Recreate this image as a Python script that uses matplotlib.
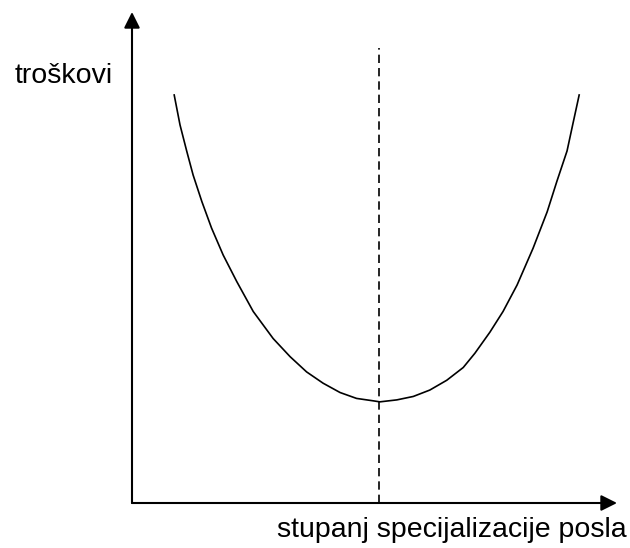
import numpy as np
import matplotlib
matplotlib.use('Agg')
import matplotlib.pyplot as plt

plt.rcParams['font.family'] = ['Liberation Sans', 'DejaVu Sans']

# curve (specialization 0..10, cost 0..10)
spec = [0.87, 0.99, 1.13, 1.26, 1.44, 1.64, 1.88, 2.16, 2.50, 2.91,
        3.26, 3.60, 3.94, 4.29, 4.63, 4.98, 5.11,
        5.46, 5.80, 6.14, 6.49, 6.83, 7.07, 7.38, 7.65, 7.94, 8.27,
        8.56, 8.76, 8.97, 9.09, 9.22]
cost = [8.31, 7.70, 7.16, 6.68, 6.14, 5.60, 5.05, 4.51, 3.90, 3.35,
        2.98, 2.67, 2.44, 2.25, 2.13, 2.08, 2.06,
        2.10, 2.17, 2.30, 2.50, 2.76, 3.05, 3.48, 3.90, 4.44, 5.19,
        5.93, 6.55, 7.17, 7.72, 8.31]
opt_x = 5.10     # minimum of cost -> dashed line
opt_top = 9.27

ylabel = 'troškovi'
xlabel = 'stupanj specijalizacije posla'

fig = plt.figure(figsize=(6.3, 5.48), dpi=100)
ax = fig.add_axes([132/630, 45/548, 485/630, 491/548])
ax.set_xlim(0, 10)
ax.set_ylim(0, 10)
ax.axis('off')

ax.plot(spec, cost, color='black', lw=1.2, solid_joinstyle='round')
ax.plot([opt_x, opt_x], [0, opt_top], color='black', lw=1.2,
        linestyle=(0, (5, 3)))

# axes with arrows
arr = dict(arrowstyle='-|>', mutation_scale=24, lw=1.5, color='black',
           shrinkA=0, shrinkB=0)
ax.annotate('', xy=(10, 0), xytext=(0, 0), arrowprops=arr, annotation_clip=False)
ax.annotate('', xy=(0, 10), xytext=(0, 0), arrowprops=arr, annotation_clip=False)

fig.text(15/630, 1 - 83/548, ylabel, fontsize=20.5, ha='left', va='baseline')
fig.text(627/630, 1 - 537/548, xlabel, fontsize=20.5, ha='right', va='baseline')

fig.savefig('out.png', dpi=100, facecolor='white')
